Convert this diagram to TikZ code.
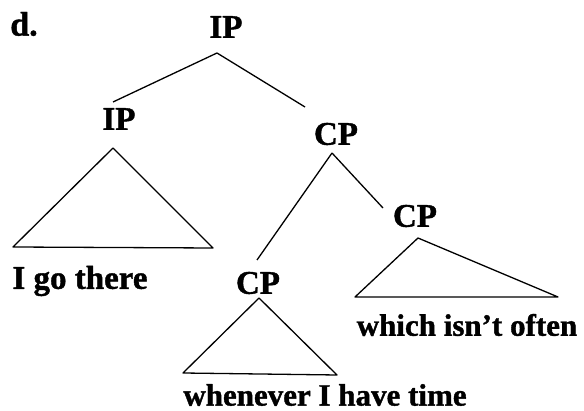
\documentclass[tikz,border=0pt]{standalone}
\usepackage{fontspec}
\setmainfont[BoldFeatures={FakeBold=1.2}]{Liberation Serif}
\begin{document}
\begin{tikzpicture}[x=1pt,y=-1pt,line width=1.3pt,line join=round,
  cat/.style={font=\bfseries\fontsize{33}{35}\selectfont,inner sep=0pt},
  words/.style={font=\bfseries\fontsize{31}{33}\selectfont,inner sep=0pt},
  tri/.style={draw,line width=1.3pt}]
\useasboundingbox (0,0) rectangle (584,411);
% labels
\node[font=\bfseries\fontsize{34}{36}\selectfont,inner sep=0pt] (d) at (24,24) {d.};
\node[cat] (ip0) at (226,27) {IP};
\node[cat] (ip1) at (119,119) {IP};
\node[cat] (cp0) at (336,134) {CP};
\node[cat] (cp1) at (415,216) {CP};
\node[cat] (cp2) at (258,283) {CP};
\node[words,font=\bfseries\fontsize{33}{35}\selectfont] (w1) at (80,281) {I go there};
\node[words] (w2) at (467,325) {which isn't often};
\node[words] (w3) at (325,395) {whenever I have time};
% branch points
\coordinate (ip0b) at (217,53);
\coordinate (ip1t) at (113,102);
\coordinate (cp0t) at (305,107);
\coordinate (cp0b) at (332,153);
\coordinate (cp2t) at (257,260);
\coordinate (cp1t) at (383,208);
% triangle corners
\coordinate (t1a) at (113,148); \coordinate (t1l) at (13,247); \coordinate (t1r) at (213,248);
\coordinate (t2a) at (418,238); \coordinate (t2l) at (355,297); \coordinate (t2r) at (558,297);
\coordinate (t3a) at (259,298); \coordinate (t3l) at (183,373); \coordinate (t3r) at (337,375);
% branches
\draw (ip0b) -- (ip1t);
\draw (ip0b) -- (cp0t);
\draw (cp0b) -- (cp2t);
\draw (cp0b) -- (cp1t);
% triangles
\draw[tri] (t1a) -- (t1l) -- (t1r) -- cycle;
\draw[tri] (t2a) -- (t2l) -- (t2r) -- cycle;
\draw[tri] (t3a) -- (t3l) -- (t3r) -- cycle;
\end{tikzpicture}
\end{document}
